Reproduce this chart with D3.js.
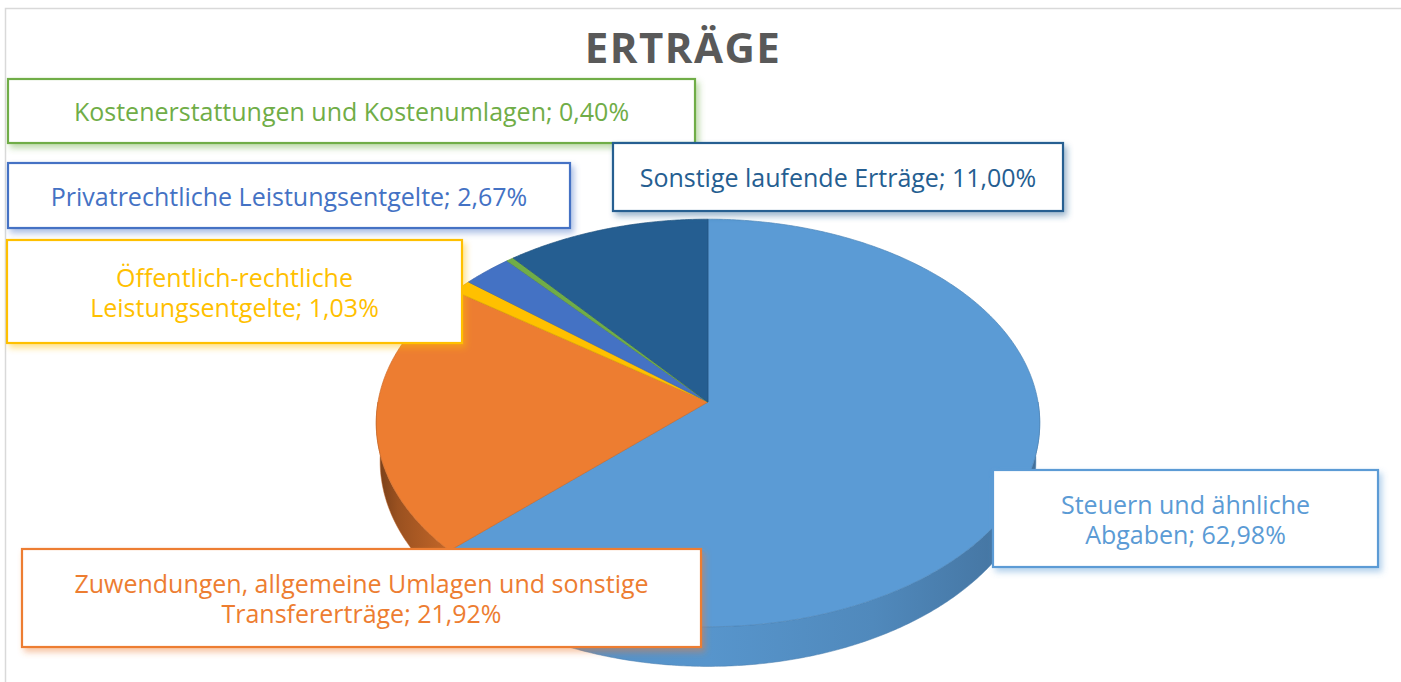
<!DOCTYPE html>
<html>
<head>
<meta charset="utf-8">
<script src="https://cdn.jsdelivr.net/npm/d3@7"></script>
<style>
  body { margin: 0; background: #fff; }
  svg { display: block; }
</style>
</head>
<body>
<div id="chart"></div>
<script>
// Data
const categories = [
  "Steuern und ähnliche Abgaben",
  "Zuwendungen, allgemeine Umlagen und sonstige Transfererträge",
  "Öffentlich-rechtliche Leistungsentgelte",
  "Privatrechtliche Leistungsentgelte",
  "Kostenerstattungen und Kostenumlagen",
  "Sonstige laufende Erträge"
];
const shares = [62.98, 21.92, 1.03, 2.67, 0.40, 11.00];
const title = "ERTRÄGE";

// Styles and layout
const colors = ["#5b9bd5", "#ed7d31", "#ffc000", "#4472c4", "#70ad47", "#255e91"];
const labelBoxes = [
  { x: 993, y: 470, w: 385, h: 97, breakAfter: "ähnliche" },
  { x: 22, y: 549, w: 679, h: 98, breakAfter: "sonstige" },
  { x: 7, y: 240, w: 455, h: 103, breakAfter: "Öffentlich-rechtliche" },
  { x: 8, y: 163, w: 562, h: 65 },
  { x: 8, y: 79, w: 687, h: 64 },
  { x: 613, y: 143, w: 450, h: 68 }
];

const width = 1401;
const height = 682;
const fontFamily = "'Open Sans', sans-serif";
const fontSize = 25;

const svg = d3.select("#chart")
  .append("svg")
  .attr("width", width)
  .attr("height", height);

const defs = svg.append("defs");

// Frame
svg.append("rect")
  .attr("x", 5.5).attr("y", 8.5)
  .attr("width", 1420).attr("height", 700)
  .attr("fill", "none")
  .attr("stroke", "#d9d9d9")
  .attr("stroke-width", 1.5);

// Title
svg.append("text")
  .attr("x", 683).attr("y", 63)
  .attr("text-anchor", "middle")
  .attr("font-family", fontFamily)
  .attr("font-weight", 700)
  .attr("font-size", 42)
  .attr("letter-spacing", 1.5)
  .attr("fill", "#595959")
  .text(title);

// Perspective projection of a tilted disc
const cx = 708, cy = 402, R = 330;
const sinA = 0.611, cosA = 0.792, D = 7.7, thick = 0.148;

function project(theta, y) {
  const x = Math.sin(theta), z = -Math.cos(theta);
  const v = y * cosA - z * sinA;
  const w = y * sinA + z * cosA;
  const s = D / (D - w);
  return [cx + R * x * s, cy - R * v * s];
}

function arcPoints(a0, a1, y) {
  const n = Math.max(2, Math.ceil(Math.abs(a1 - a0) / (Math.PI / 360)));
  return d3.range(n + 1).map(i => project(a0 + (a1 - a0) * i / n, y));
}

const pie = d3.pie().sort(null).value(d => d)
  .startAngle(0).endAngle(2 * Math.PI);
const arcs = pie(shares);

const line = d3.line();

// Wall gradients
arcs.forEach((a, i) => {
  const c = colors[i];
  const g = defs.append("linearGradient")
    .attr("id", "wall" + i)
    .attr("gradientUnits", "userSpaceOnUse")
    .attr("x1", cx - R).attr("x2", cx + R)
    .attr("y1", 0).attr("y2", 0);
  [[0, 1.9], [0.03, 1.2], [0.12, 0.45], [0.3, 0.2], [0.5, 0.12], [0.75, 0.35], [1, 0.9]]
    .forEach(([o, k]) => g.append("stop").attr("offset", o).attr("stop-color", d3.color(c).darker(k)));
});

// Outer walls (front half only)
const pieG = svg.append("g");
arcs.forEach((a, i) => {
  const s = Math.max(a.startAngle, Math.PI / 2);
  const e = Math.min(a.endAngle, 3 * Math.PI / 2);
  if (e <= s) return;
  const pts = arcPoints(s, e, 0).concat(arcPoints(e, s, -thick));
  pieG.append("path")
    .attr("d", line(pts) + "Z")
    .attr("fill", `url(#wall${i})`)
    .attr("stroke", d3.color(colors[i]).darker(0.6))
    .attr("stroke-width", 0.5);
});

// Top faces
arcs.forEach((a, i) => {
  const pts = [[cx, cy]].concat(arcPoints(a.startAngle, a.endAngle, 0));
  pieG.append("path")
    .attr("d", line(pts) + "Z")
    .attr("fill", colors[i])
    .attr("stroke", d3.color(colors[i]).darker(0.4))
    .attr("stroke-width", 0.7);
});

// Labels
const fmt = v => d3.format(".2f")(v).replace(".", ",") + "%";

labelBoxes.forEach((b, i) => {
  const c = colors[i];
  const f = defs.append("filter")
    .attr("id", "shadow" + i)
    .attr("x", "-10%").attr("y", "-30%")
    .attr("width", "120%").attr("height", "160%");
  f.append("feDropShadow")
    .attr("dx", 3).attr("dy", 4)
    .attr("stdDeviation", 3)
    .attr("flood-color", c)
    .attr("flood-opacity", 0.45);

  const g = svg.append("g");
  g.append("rect")
    .attr("x", b.x).attr("y", b.y)
    .attr("width", b.w).attr("height", b.h)
    .attr("fill", "#fff")
    .attr("stroke", c)
    .attr("stroke-width", 2.2)
    .attr("filter", `url(#shadow${i})`);

  const full = categories[i] + "; " + fmt(shares[i]);
  let lines = [full];
  if (b.breakAfter) {
    const k = full.indexOf(b.breakAfter) + b.breakAfter.length;
    lines = [full.slice(0, k).trim(), full.slice(k).trim()];
  }
  const lh = 30;
  const mid = b.y + b.h / 2 + 1;
  const tx = b.x + b.w / 2;
  const text = g.append("text")
    .attr("x", tx)
    .attr("y", mid - (lines.length - 1) / 2 * lh + fontSize * 0.36)
    .attr("text-anchor", "middle")
    .attr("font-family", fontFamily)
    .attr("font-size", fontSize)
    .attr("fill", c);
  lines.forEach((t, j) => {
    text.append("tspan")
      .attr("x", tx)
      .attr("dy", j === 0 ? 0 : lh)
      .text(t);
  });
});
</script>
</body>
</html>
